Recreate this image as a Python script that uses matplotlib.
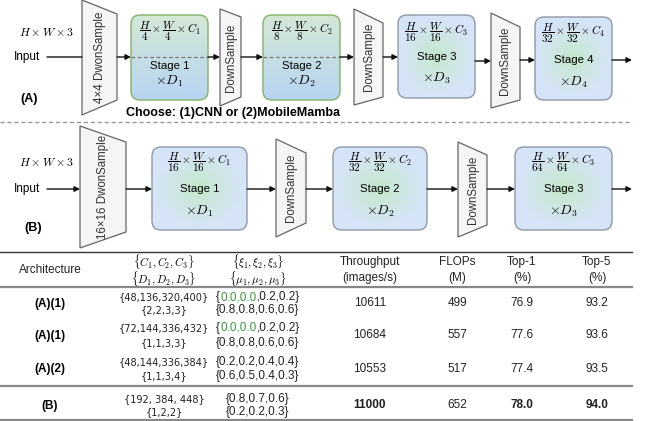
import numpy as np
import matplotlib.pyplot as plt
from matplotlib import font_manager
from matplotlib.font_manager import FontProperties
from matplotlib.patches import FancyBboxPatch, Polygon

plt.rcParams['font.family'] = ['Liberation Sans', 'DejaVu Sans']
plt.rcParams['mathtext.fontset'] = 'cm'

# table contents
arch = ['(A)(1)', '(A)(1)', '(A)(2)', '(B)']
channels = ['{48,136,320,400}', '{72,144,336,432}', '{48,144,336,384}', '{192, 384, 448}']
depths = ['{2,2,3,3}', '{1,1,3,3}', '{1,1,3,4}', '{1,2,2}']
xi = [['{', '0.0,0.0', ',0.2,0.2}'],
      ['{', '0.0,0.0', ',0.2,0.2}'],
      ['{0.2,0.2,0.4,0.4}'],
      ['{0.8,0.7,0.6}']]
mu = ['{0.8,0.8,0.6,0.6}', '{0.8,0.8,0.6,0.6}', '{0.6,0.5,0.4,0.3}', '{0.2,0.2,0.3}']
throughput = [10611, 10684, 10553, 11000]
flops = [499, 557, 517, 652]
top1 = [76.9, 77.6, 77.4, 78.0]
top5 = [93.2, 93.6, 93.5, 94.0]
best = {'throughput': 11000, 'top1': 78.0, 'top5': 94.0}

# stage labels: (spatial divisor, channel symbol, depth symbol)
stages_a = [('4', 'C_1', 'D_1'), ('8', 'C_2', 'D_2'), ('16', 'C_3', 'D_3'), ('32', 'C_4', 'D_4')]
stages_b = [('16', 'C_1', 'D_1'), ('32', 'C_2', 'D_2'), ('64', 'C_3', 'D_3')]

fig = plt.figure(figsize=(6.46, 4.21), dpi=100)
ax = fig.add_axes([0, 0, 1, 1])
ax.axis('off')
ax.set_xlim(0, 646)
ax.set_ylim(421, 0)

# a narrow face for the channel/depth column, if one is installed
narrow_fp = FontProperties(family='Liberation Sans', size=7.2)
for key in ['LiberationSansNarrow-Regular', 'DejaVuSansCondensed.', 'Condensed-Regular']:
    hits = [f.fname for f in font_manager.fontManager.ttflist if key in f.fname]
    if hits:
        narrow_fp = FontProperties(fname=hits[0], size=7.8)
        break

GREEN_C = np.array([196, 232, 200]) / 255
BLUE_E = np.array([214, 228, 248]) / 255
TOP_G = np.array([212, 232, 214]) / 255
BOT_B = np.array([184, 212, 242]) / 255


def grad_box(x0, x1, y0, y1, kind):
    edge = '#82b366' if kind == 'linear' else '#8e99a5'
    box = FancyBboxPatch((x0, y0), x1 - x0, y1 - y0,
                         boxstyle='round,pad=0,rounding_size=9',
                         fc='none', ec=edge, lw=1.0, zorder=4)
    ax.add_patch(box)
    if kind == 'linear':
        t = np.linspace(0, 1, 120)[:, None, None] * np.ones((1, 4, 1))
        img = TOP_G + (BOT_B - TOP_G) * t
    else:
        yy, xx = np.mgrid[-1:1:120j, -1:1:120j]
        r = np.clip(np.hypot(xx, yy) / 0.95, 0, 1) ** 0.9
        img = GREEN_C + (BLUE_E - GREEN_C) * r[..., None]
    im = ax.imshow(img, extent=(x0, x1, y1, y0), zorder=3, interpolation='bilinear')
    im.set_clip_path(box)


def trapezoid(pts, label):
    ax.add_patch(Polygon(pts, closed=True, fc='#f5f5f5', ec='#666666', lw=0.9, zorder=3))
    xs = [p[0] for p in pts]
    ys = [p[1] for p in pts]
    ax.text(np.mean(xs), (min(ys) + max(ys)) / 2, label, rotation=90,
            ha='center', va='center', fontsize=8.3, color='#333333', zorder=5)


def arrow(x0, x1, y, head=True):
    ax.annotate('', xy=(x1, y), xytext=(x0, y),
                arrowprops=dict(arrowstyle='-|>' if head else '-', color='#111111', lw=1.0,
                                mutation_scale=8, shrinkA=0, shrinkB=0), zorder=6)


def stage(box, lab, idx, kind, ys):
    x0, x1, y0, y1 = box
    grad_box(x0, x1, y0, y1, kind)
    cx = (x0 + x1) / 2
    d, c, dd = lab
    ax.text(cx, ys[0], r'$\dfrac{H}{%s}\times\dfrac{W}{%s}\times %s$' % (d, d, c),
            ha='center', va='center', fontsize=8.1, zorder=6)
    ax.text(cx, ys[1], 'Stage %d' % idx, ha='center', va='center', fontsize=8.2, zorder=6)
    ax.text(cx, ys[2], r'$\times %s$' % dd, ha='center', va='center', fontsize=10, zorder=6)


# ---- (A) four-stage layout ----
ax.text(46, 33, r'$H\times W\times 3$', ha='center', va='center', fontsize=8.5)
ax.text(40, 57, 'Input', ha='right', va='center', fontsize=8.5)
arrow(47, 82, 57, head=False)
trapezoid([(82, 0), (117, 14), (117, 100), (82, 115)], '4×4 DwonSample')
arrow(117, 131, 57)
a_boxes = [(131, 208, 15, 100), (263, 340, 15, 100), (398, 475, 15, 98), (535, 612, 17, 100)]
a_text_y = [(31, 66, 81), (31, 66, 81), (32, 57, 78), (33, 60, 82)]
for i, (b, lab, ty) in enumerate(zip(a_boxes, stages_a, a_text_y)):
    stage(b, lab, i + 1, 'linear' if i < 2 else 'radial', ty)
for b in a_boxes[:2]:
    ax.plot([b[0], b[1]], [57, 57], ls=(0, (3, 2)), color='#777777', lw=0.9, zorder=5)
trapezoid([(220, 9), (241, 17), (241, 97), (220, 106)], 'DownSample')
trapezoid([(354, 9), (383, 23), (383, 97), (354, 105)], 'DownSample')
trapezoid([(491, 13), (520, 27), (520, 100), (491, 108)], 'DownSample')
arrow(208, 220, 57)
arrow(241, 263, 57)
arrow(340, 354, 57)
arrow(383, 398, 57)
arrow(475, 491, 61)
arrow(520, 535, 60)
arrow(612, 632, 60)
ax.text(29, 99, '(A)', ha='center', va='center', fontsize=9, fontweight='bold')
ax.text(233, 113, 'Choose: (1)CNN or (2)MobileMamba', ha='center', va='center',
        fontsize=9, fontweight='bold', zorder=6)
ax.plot([0, 632], [122, 122], ls=(0, (3, 2)), color='#999999', lw=1.0)

# ---- (B) three-stage layout ----
ax.text(46, 163, r'$H\times W\times 3$', ha='center', va='center', fontsize=8.5)
ax.text(40, 189, 'Input', ha='right', va='center', fontsize=8.5)
arrow(47, 80, 189)
trapezoid([(80, 126), (126, 142), (126, 232), (80, 248)], '16×16 DwonSample')
arrow(126, 152, 189)
b_boxes = [(152, 247, 147, 230), (333, 427, 147, 230), (515, 612, 147, 230)]
for i, (b, lab) in enumerate(zip(b_boxes, stages_b)):
    stage(b, lab, i + 1, 'radial', (162, 189, 211))
trapezoid([(276, 139), (306, 153), (306, 223), (276, 237)], 'DownSample')
trapezoid([(458, 142), (487, 155), (487, 225), (458, 237)], 'DownSample')
arrow(247, 276, 189)
arrow(306, 333, 189)
arrow(427, 458, 189)
arrow(487, 515, 189)
arrow(612, 632, 189)
ax.text(33, 228, '(B)', ha='center', va='center', fontsize=9, fontweight='bold')

# ---- table ----
cols = [50, 164, 258, 370, 457, 522, 597]
tc = '#222222'
ax.plot([0, 632], [252, 252], color='#333333', lw=1.0)
ax.plot([0, 632], [287, 287], color='#888888', lw=1.6)
ax.plot([0, 632], [386, 386], color='#888888', lw=1.6)
ax.plot([0, 632], [420, 420], color='#888888', lw=1.6)

ax.text(cols[0], 270, 'Architecture', ha='center', va='center', fontsize=8.5, color=tc)
ax.text(cols[1], 261.5, r'$\{C_1, C_2, C_3\}$', ha='center', va='center', fontsize=8)
ax.text(cols[1], 279, r'$\{D_1, D_2, D_3\}$', ha='center', va='center', fontsize=8)
ax.text(cols[2], 261.5, r'$\{\xi_1, \xi_2, \xi_3\}$', ha='center', va='center', fontsize=8)
ax.text(cols[2], 279, r'$\{\mu_1, \mu_2, \mu_3\}$', ha='center', va='center', fontsize=8)
for x, l1, l2 in zip(cols[3:], ['Throughput', 'FLOPs', 'Top-1', 'Top-5'],
                     ['(images/s)', '(M)', '(%)', '(%)']):
    ax.text(x, 262, l1, ha='center', va='center', fontsize=8.5, color=tc)
    ax.text(x, 278, l2, ha='center', va='center', fontsize=8.5, color=tc)

row_y = [(297, 310), (328, 343), (362, 376), (399, 412)]
renderer = fig.canvas.get_renderer()
inv = ax.transData.inverted()
for i in range(len(arch)):
    ya, yb = row_y[i]
    ym = (ya + yb) / 2
    ax.text(cols[0], ym, arch[i], ha='center', va='center', fontsize=8.5, fontweight='bold')
    ax.text(cols[1], ya, channels[i], ha='center', va='center', fontproperties=narrow_fp, color=tc)
    ax.text(cols[1], yb, depths[i], ha='center', va='center', fontproperties=narrow_fp, color=tc)
    # the xi entry may carry a highlighted span, so lay its pieces out left to right
    probe = ax.text(cols[2], ya, ''.join(xi[i]), ha='center', va='center', fontsize=8.5, alpha=0)
    bb = probe.get_window_extent(renderer)
    x = inv.transform((bb.x0, 0))[0]
    for k, piece in enumerate(xi[i]):
        t = ax.text(x, ya, piece, ha='left', va='center', fontsize=8.5,
                    color='#3a9a3a' if (len(xi[i]) == 3 and k == 1) else tc)
        pb = t.get_window_extent(renderer)
        x = inv.transform((pb.x1, 0))[0]
    ax.text(cols[2], yb, mu[i], ha='center', va='center', fontsize=8.5, color=tc)
    for x, v, key in [(cols[3], throughput[i], 'throughput'), (cols[4], flops[i], None),
                      (cols[5], top1[i], 'top1'), (cols[6], top5[i], 'top5')]:
        txt = f'{v:.1f}' if isinstance(v, float) else str(v)
        bold = key is not None and v == best[key]
        ax.text(x, ym, txt, ha='center', va='center', fontsize=8.5,
                fontweight='bold' if bold else 'normal', color=tc)

ax.set_xlim(0, 646)
ax.set_ylim(421, 0)
ax.set_aspect('auto')
fig.savefig('out.png', dpi=100)
